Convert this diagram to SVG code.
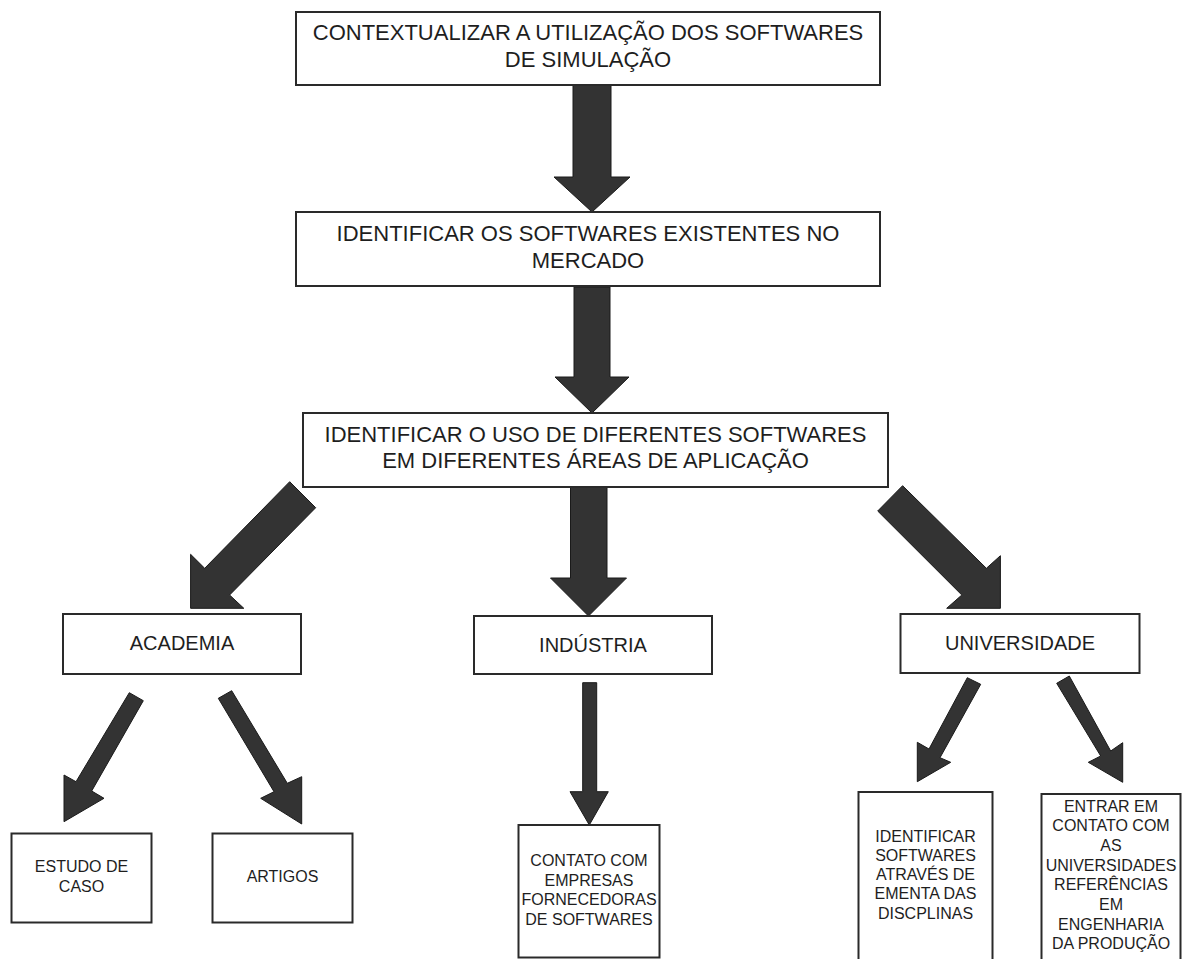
<svg xmlns="http://www.w3.org/2000/svg" width="1182" height="959" viewBox="0 0 1182 959">
<style>
.box{fill:#fff;stroke:#2a2a2a;stroke-width:2}
.arr{fill:#333;stroke:#1a1a1a;stroke-width:1;stroke-linejoin:miter}
text{font-family:"Liberation Sans",Arial,sans-serif;fill:#1e1e1e;text-anchor:middle}
.big{font-size:22px}
.mid{font-size:20px}
.sm{font-size:16px}
</style>
<rect width="1182" height="959" fill="#fff"/>
<g id="connectors">
<polygon class="arr" points="573,85 611,85 611,177 630,177 592,212 554,177 573,177"/>
<polygon class="arr" points="574,287 610,287 610,377 629,377 592,413 555,377 574,377"/>
<polygon class="arr" points="570.5,487 607,487 607,578 626.5,578 588.5,616 550.5,578 570.5,578"/>
<polygon class="arr" points="582.7,682.7 596.7,682.7 596.7,791.7 608.3,791.7 589.3,825 570,791.7 582.7,791.7"/>
<polygon class="arr" points="289.7,481.7 315.7,507.7 229.6,595 243.8,608.3 190.6,608.3 190.6,554.3 204.7,568.3"/>
<polygon class="arr" points="902.6,485.7 877.7,511 961.8,595 946.7,608.3 1000.4,608.3 1000.4,555.7 986.4,568.3"/>
<polygon class="arr" points="129.3,692.7 143.3,700.7 91.7,791 104,798.3 64,821.7 64,775 76,781.7"/>
<polygon class="arr" points="231.7,690.7 218.3,698.3 274,791.7 260.7,798.3 301.7,824 301.7,776.7 287.3,783.3"/>
<polygon class="arr" points="967.3,677.7 980.7,684.3 940,757.7 950.7,762.3 917.3,781.7 917.3,742.3 929,749"/>
<polygon class="arr" points="1069.3,676 1056.7,683.3 1100.7,756 1088.3,762.3 1122.7,782.3 1122.7,742.7 1110.7,751"/>
</g>
<g id="n1">
<rect class="box" x="296" y="12" width="584" height="73"/>
<text class="big" x="588" y="40">CONTEXTUALIZAR A UTILIZAÇÃO DOS SOFTWARES</text>
<text class="big" x="588" y="67">DE SIMULAÇÃO</text>
</g>
<g id="n2">
<rect class="box" x="296" y="212" width="584" height="74"/>
<text class="big" x="588" y="241">IDENTIFICAR OS SOFTWARES EXISTENTES NO</text>
<text class="big" x="588" y="268">MERCADO</text>
</g>
<g id="n3">
<rect class="box" x="303" y="413" width="585" height="74"/>
<text class="big" x="595.5" y="442">IDENTIFICAR O USO DE DIFERENTES SOFTWARES</text>
<text class="big" x="595.5" y="468">EM DIFERENTES ÁREAS DE APLICAÇÃO</text>
</g>
<g id="academia">
<rect class="box" x="63" y="614" width="238" height="60"/>
<text class="mid" x="182" y="650">ACADEMIA</text>
</g>
<g id="industria">
<rect class="box" x="474" y="616" width="238" height="58"/>
<text class="mid" x="593" y="652">INDÚSTRIA</text>
</g>
<g id="universidade">
<rect class="box" x="900.5" y="614" width="239" height="59"/>
<text class="mid" x="1020" y="650">UNIVERSIDADE</text>
</g>
<g id="estudo">
<rect class="box" x="11.5" y="833.5" width="140" height="89"/>
<text class="sm" x="81.5" y="872">ESTUDO DE</text>
<text class="sm" x="81.5" y="891.5">CASO</text>
</g>
<g id="artigos">
<rect class="box" x="212.5" y="833.5" width="140" height="89"/>
<text class="sm" x="282.5" y="882">ARTIGOS</text>
</g>
<g id="contato">
<rect class="box" x="518.5" y="825" width="141" height="132.5"/>
<text class="sm" x="589" y="866">CONTATO COM</text>
<text class="sm" x="589" y="885.5">EMPRESAS</text>
<text class="sm" x="589" y="905">FORNECEDORAS</text>
<text class="sm" x="589" y="925">DE SOFTWARES</text>
</g>
<g id="identificar">
<rect class="box" x="858.5" y="792" width="134" height="175"/>
<text class="sm" x="925.5" y="841.5">IDENTIFICAR</text>
<text class="sm" x="925.5" y="860.5">SOFTWARES</text>
<text class="sm" x="925.5" y="879.7">ATRAVÉS DE</text>
<text class="sm" x="925.5" y="899.3">EMENTA DAS</text>
<text class="sm" x="925.5" y="919">DISCPLINAS</text>
</g>
<g id="entrar">
<rect class="box" x="1041.5" y="794" width="139" height="175"/>
<text class="sm" x="1111" y="811.5">ENTRAR EM</text>
<text class="sm" x="1111" y="831.2">CONTATO COM</text>
<text class="sm" x="1111" y="850.9">AS</text>
<text class="sm" x="1111" y="870.6">UNIVERSIDADES</text>
<text class="sm" x="1111" y="890.3">REFERÊNCIAS</text>
<text class="sm" x="1111" y="910">EM</text>
<text class="sm" x="1111" y="929.7">ENGENHARIA</text>
<text class="sm" x="1111" y="949.4">DA PRODUÇÃO</text>
</g>
</svg>
